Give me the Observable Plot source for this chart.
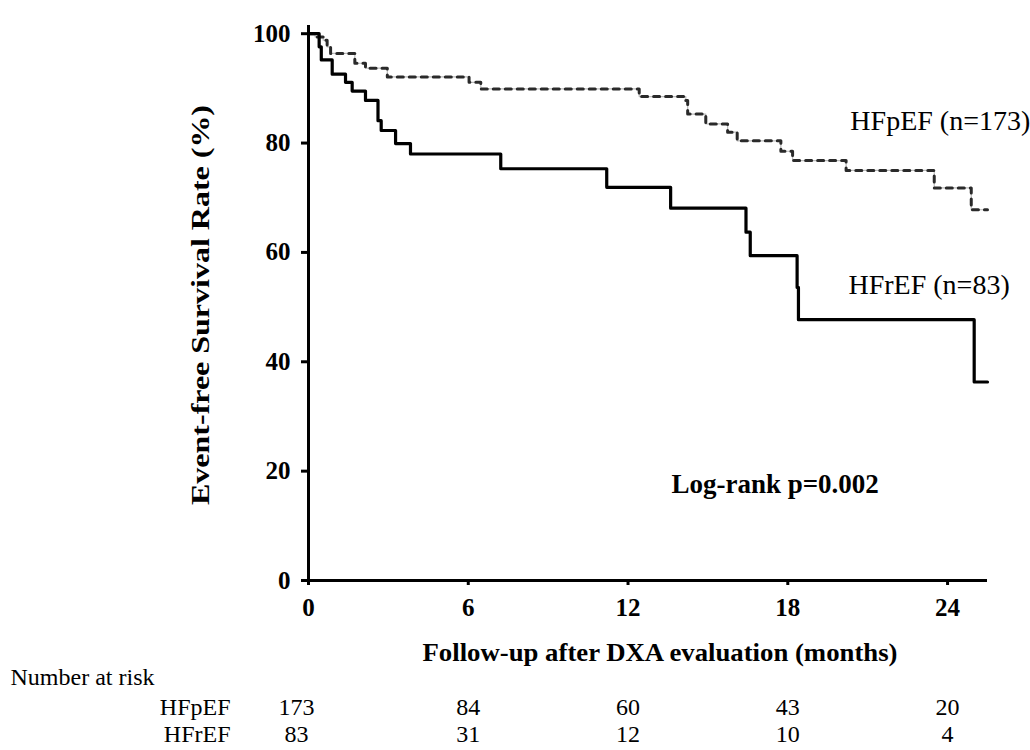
<!DOCTYPE html>
<html><head><meta charset="utf-8">
<script src="https://cdn.jsdelivr.net/npm/d3@7"></script>
<script src="https://cdn.jsdelivr.net/npm/@observablehq/plot@0.6"></script>
<style>body{margin:0;background:#fff;}</style>
</head><body><div id="chart"></div>
<script>
// Kaplan-Meier estimates (months, %)
const hfrefTime = [0, 0.40, 0.48, 0.89, 1.39, 1.64, 2.14, 2.61, 2.73, 3.27, 3.83, 7.22, 11.2, 13.6, 16.43, 16.59, 18.35, 18.4, 25.0, 25.5];
const hfrefSurv = [100, 97.6, 95.2, 92.6, 91.1, 89.5, 87.8, 84.1, 82.3, 79.9, 78.0, 75.3, 71.9, 68.1, 63.7, 59.4, 53.6, 47.7, 36.3, 36.3];
const hfpefTime = [0, 0.25, 0.55, 0.70, 0.83, 1.74, 2.14, 2.96, 6.03, 6.47, 12.42, 14.17, 14.24, 14.92, 15.74, 16.1, 17.74, 18.18, 20.19, 23.5, 24.89, 25.5];
const hfpefSurv = [100, 99.4, 98.8, 97.6, 96.4, 94.6, 93.7, 92.1, 91.1, 89.9, 88.5, 87.8, 85.3, 83.5, 82.0, 80.4, 78.5, 76.8, 75.0, 71.8, 67.8, 67.8];

const xTicks = [0, 6, 12, 18, 24];
const yTicks = [0, 20, 40, 60, 80, 100];
const riskMonths = [0, 6, 12, 18, 24];
const riskHFpEF = [173, 84, 60, 43, 20];
const riskHFrEF = [83, 31, 12, 10, 4];
const groupLabels = ["HFpEF (n=173)", "HFrEF (n=83)"];
const yTitle = "Event-free Survival Rate (%)";
const xTitle = "Follow-up after DXA evaluation (months)";

const hfref = hfrefTime.map((t, i) => ({t, s: hfrefSurv[i]}));
const hfpef = hfpefTime.map((t, i) => ({t, s: hfpefSurv[i]}));
const rowP = riskMonths.map((m, i) => ({m, n: riskHFpEF[i]}));
const rowR = riskMonths.map((m, i) => ({m, n: riskHFrEF[i]}));

const serif = "'Liberation Serif', 'Times New Roman', serif";

const chart = Plot.plot({
  width: 1030, height: 750,
  marginLeft: 308, marginRight: 43, marginTop: 25, marginBottom: 170,
  x: {domain: [0, 25.5]},
  y: {domain: [0, 101.5]},
  style: {fontFamily: serif, fontSize: "25px", fontWeight: "bold", background: "#fff", color: "#000", overflow: "visible"},
  marks: [
    Plot.line(hfpef, {x: "t", y: "s", curve: "step-after", stroke: "#bbb", strokeWidth: 1.2}),
    Plot.line(hfpef, {x: "t", y: "s", curve: "step-after", stroke: "#2a2a2a", strokeWidth: 3, strokeDasharray: "6,6"}),
    Plot.line(hfref, {x: "t", y: "s", curve: "step-after", stroke: "#000", strokeWidth: 3.2}),
    Plot.ruleX([0], {y1: 0, y2: 101.5, stroke: "#000", strokeWidth: 3}),
    Plot.ruleY([0], {x1: 0, x2: 25.5, stroke: "#000", strokeWidth: 3}),
    Plot.axisX(xTicks, {tickSize: 5, tickPadding: 13, strokeWidth: 3, label: null, fontSize: 25, fontWeight: "bold"}),
    Plot.axisY(yTicks, {tickSize: 7, tickPadding: 11, strokeWidth: 3, label: null, fontSize: 25, fontWeight: "bold"}),
    Plot.text([yTitle], {frameAnchor: "left", dx: -108, dy: 2, rotate: -90, textAnchor: "middle", fontSize: 26, fontWeight: "bold"}),
    Plot.text([xTitle], {frameAnchor: "bottom", dx: 12, dy: 80, textAnchor: "middle", fontSize: 26, fontWeight: "bold"}),
    Plot.text([groupLabels[0]], {x: () => 20.35, y: () => 84.1, textAnchor: "start", fontSize: 28, fontWeight: "normal"}),
    Plot.text([groupLabels[1]], {x: () => 20.28, y: () => 54.0, textAnchor: "start", fontSize: 28, fontWeight: "normal"}),
    Plot.text(["Log-rank p=0.002"], {x: () => 13.63, y: () => 17.6, textAnchor: "start", fontSize: 27, fontWeight: "bold"}),
    Plot.text(["Number at risk"], {frameAnchor: "bottom-left", dx: -298, dy: 104, textAnchor: "start", fontSize: 24, fontWeight: "normal"}),
    Plot.text(["HFpEF"], {frameAnchor: "bottom-left", dx: -78, dy: 134, textAnchor: "end", fontSize: 24, fontWeight: "normal"}),
    Plot.text(["HFrEF"], {frameAnchor: "bottom-left", dx: -78, dy: 161, textAnchor: "end", fontSize: 24, fontWeight: "normal"}),
    Plot.text(rowP.slice(0, 1), {x: "m", text: "n", frameAnchor: "bottom", dx: -12, dy: 134, fontSize: 24, fontWeight: "normal"}),
    Plot.text(rowP.slice(1), {x: "m", text: "n", frameAnchor: "bottom", dy: 134, fontSize: 24, fontWeight: "normal"}),
    Plot.text(rowR.slice(0, 1), {x: "m", text: "n", frameAnchor: "bottom", dx: -12, dy: 161, fontSize: 24, fontWeight: "normal"}),
    Plot.text(rowR.slice(1), {x: "m", text: "n", frameAnchor: "bottom", dy: 161, fontSize: 24, fontWeight: "normal"})
  ]
});
document.getElementById("chart").appendChild(chart);
// stretch the two axis titles to the length they have in the original figure
d3.select(chart).selectAll("text").filter(function () { return this.textContent === yTitle; })
  .attr("textLength", 400).attr("lengthAdjust", "spacingAndGlyphs");
d3.select(chart).selectAll("text").filter(function () { return this.textContent === xTitle; })
  .attr("textLength", 475).attr("lengthAdjust", "spacingAndGlyphs");
</script>
</body></html>
